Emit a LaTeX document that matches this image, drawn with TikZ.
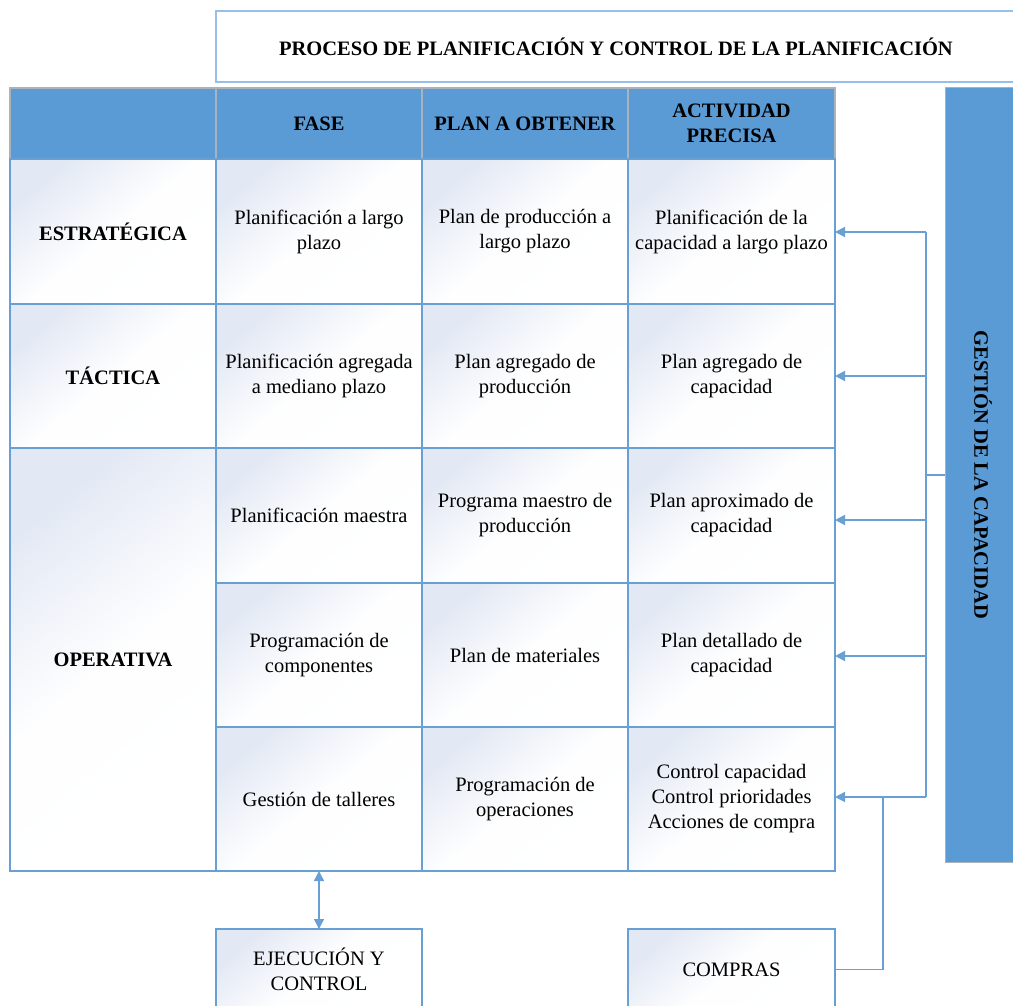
\documentclass[tikz,border=0pt]{standalone}
\usepackage{fontspec}
\setmainfont{Liberation Serif}
\usetikzlibrary{arrows.meta}
\definecolor{hdrblue}{RGB}{91,155,213}
\definecolor{edgeblue}{RGB}{104,160,214}
\definecolor{titleedge}{RGB}{150,192,232}
\definecolor{cellblue}{RGB}{226,232,244}
\definecolor{hdredge}{RGB}{170,178,188}

\begin{document}
\begin{tikzpicture}[x=1pt,y=-1pt,
  every node/.style={font=\fontsize{20.5}{25}\selectfont, align=center,
    inner sep=0pt, outer sep=0pt},
  cell/.style={draw=edgeblue, line width=1.3pt, top color=cellblue,
    bottom color=white, middle color=white!96!cellblue, shading angle=40},
  hdr/.style={draw=hdredge, line width=1.2pt, fill=hdrblue,
    font=\fontsize{20.5}{25}\selectfont\bfseries},
  rowlabel/.style={cell, font=\fontsize{20.5}{25}\selectfont\bfseries},
  conn/.style={draw=edgeblue, line width=1.5pt},
  arr/.style={conn, -{Triangle[length=10pt,width=10pt]}},
  dblarr/.style={conn, {Triangle[length=10pt,width=10pt]}-{Triangle[length=10pt,width=10pt]}}
]
\useasboundingbox (0,0) rectangle (1013,1006);
\clip (0,0) rectangle (1013,1006);

% title
\node[draw=titleedge, line width=1.6pt, fill=white, minimum width=800pt,
  minimum height=71pt, font=\fontsize{20.5}{25}\selectfont\bfseries]
  (title) at (616,46.5) {PROCESO DE PLANIFICACIÓN Y CONTROL DE LA PLANIFICACIÓN};

% header row
\node[hdr, minimum width=206pt, minimum height=71pt] (h0) at (113,123.5) {};
\node[hdr, minimum width=206pt, minimum height=71pt] (h1) at (319,123.5) {FASE};
\node[hdr, minimum width=206pt, minimum height=71pt] (h2) at (525,123.5) {PLAN A OBTENER};
\node[hdr, minimum width=207pt, minimum height=71pt] (h3) at (731.5,123.5) {ACTIVIDAD\\PRECISA};

% level column
\node[rowlabel, minimum width=206pt, minimum height=145pt] (l1) at (113,231.5) {ESTRATÉGICA};
\node[rowlabel, minimum width=206pt, minimum height=144pt] (l2) at (113,376) {TÁCTICA};
\node[rowlabel, minimum width=206pt, minimum height=423pt] (l3) at (113,659.5) {OPERATIVA};

% phase column
\node[cell, minimum width=206pt, minimum height=145pt] (f1) at (319,231.5) {Planificación a largo\\plazo};
\node[cell, minimum width=206pt, minimum height=144pt] (f2) at (319,376) {Planificación agregada\\a mediano plazo};
\node[cell, minimum width=206pt, minimum height=135pt] (f3) at (319,515.5) {Planificación maestra};
\node[cell, minimum width=206pt, minimum height=144pt] (f4) at (319,655) {Programación de\\componentes};
\node[cell, minimum width=206pt, minimum height=144pt] (f5) at (319,799) {Gestión de talleres};

% plan column
\node[cell, minimum width=206pt, minimum height=145pt] (p1) at (525,231.5) {Plan de producción a\\largo plazo};
\node[cell, minimum width=206pt, minimum height=144pt] (p2) at (525,376) {Plan agregado de\\producción};
\node[cell, minimum width=206pt, minimum height=135pt] (p3) at (525,515.5) {Programa maestro de\\producción};
\node[cell, minimum width=206pt, minimum height=144pt] (p4) at (525,655) {Plan de materiales};
\node[cell, minimum width=206pt, minimum height=144pt] (p5) at (525,799) {Programación de\\operaciones};

% activity column
\node[cell, minimum width=207pt, minimum height=145pt] (a1) at (731.5,231.5) {Planificación de la\\capacidad a largo plazo};
\node[cell, minimum width=207pt, minimum height=144pt] (a2) at (731.5,376) {Plan agregado de\\capacidad};
\node[cell, minimum width=207pt, minimum height=135pt] (a3) at (731.5,515.5) {Plan aproximado de\\capacidad};
\node[cell, minimum width=207pt, minimum height=144pt] (a4) at (731.5,655) {Plan detallado de\\capacidad};
\node[cell, minimum width=207pt, minimum height=144pt] (a5) at (731.5,799) {Control capacidad\\Control prioridades\\Acciones de compra};

% bottom boxes
\node[cell, minimum width=206pt, minimum height=81pt] (ej) at (319,969.5) {EJECUCIÓN Y\\CONTROL};
\node[cell, minimum width=207pt, minimum height=81pt] (co) at (731.5,969.5) {COMPRAS};

% capacity management bar
\node[draw=hdredge, line width=1pt, fill=hdrblue, minimum width=76pt,
  minimum height=774pt] (bar) at (983,475) {};
\node[rotate=-90, font=\fontsize{20.5}{25}\selectfont\bfseries]
  (barlabel) at (bar.center) {GESTIÓN DE LA CAPACIDAD};

% feedback bus from the bar to each activity
\coordinate (b1) at (926,232);
\coordinate (b2) at (926,376);
\coordinate (b3) at (926,520);
\coordinate (b4) at (926,656);
\coordinate (b5) at (926,797);
\coordinate (bm) at (926,475);
\coordinate (j5) at (883,797);
\draw[conn] (b1) -- (b5);
\draw[conn] (bm) -- (bm -| bar.west);
\draw[arr] (b1) -- (b1 -| a1.east);
\draw[arr] (b2) -- (b2 -| a2.east);
\draw[arr] (b3) -- (b3 -| a3.east);
\draw[arr] (b4) -- (b4 -| a4.east);
\draw[arr] (b5) -- (b5 -| a5.east);

% purchasing link and execution link
\draw[conn] (co.east) -| (j5);
\draw[dblarr] (f5.south) -- (ej.north);
\end{tikzpicture}
\end{document}
